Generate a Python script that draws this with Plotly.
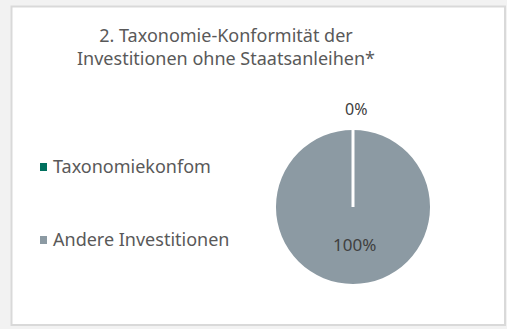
import plotly.graph_objects as go

# Chart data
labels = ["Taxonomiekonfom", "Andere Investitionen"]
values = [0, 100]
colors = ["#00705E", "#8C9AA3"]
title_lines = ["2. Taxonomie-Konformität der", "Investitionen ohne Staatsanleihen*"]

W, H = 507, 329
FONT = "Noto Sans"
TEXT_COLOR = "#595959"
LABEL_COLOR = "#404040"

# Pie geometry in pixels (centre and radius), converted to paper fractions
CX, CY, R = 353, 207, 77
dom_x = [(CX - R) / W, (CX + R) / W]
dom_y = [1 - (CY + R) / H, 1 - (CY - R) / H]

fig = go.Figure()

fig.add_trace(go.Pie(
    labels=labels,
    values=values,
    sort=False,
    direction="clockwise",
    rotation=0,
    marker=dict(colors=colors, line=dict(color="white", width=0)),
    textinfo="none",
    showlegend=False,
    hoverinfo="label+percent",
    domain=dict(x=dom_x, y=dom_y),
))

# Panel background with a light border
fig.add_shape(type="rect", xref="paper", yref="paper",
              x0=11.5 / W, x1=505 / W, y0=1 - 325 / H, y1=1 - 6.5 / H,
              fillcolor="white", line=dict(color="#D9D9D9", width=2), layer="below")

# Slice boundary at the start angle (12 o'clock), where the empty slice sits
fig.add_shape(type="line", xref="paper", yref="paper",
              x0=CX / W, x1=CX / W, y0=1 - CY / H, y1=1 - (CY - R) / H,
              line=dict(color="white", width=3), layer="above")

# Percentage labels: empty slice label above the pie, the rest inside near the bottom
total = sum(values)
pcts = [f"{round(100 * v / total)}%" for v in values]
fig.add_annotation(xref="paper", yref="paper", x=(CX + 3) / W, y=1 - (CY - R - 21) / H,
                   text=pcts[0], showarrow=False,
                   font=dict(family=FONT, size=16, color=LABEL_COLOR),
                   xanchor="center", yanchor="middle")
fig.add_annotation(xref="paper", yref="paper", x=(CX + 1) / W, y=1 - (CY + 37) / H,
                   text=pcts[1], showarrow=False,
                   font=dict(family=FONT, size=17, color=LABEL_COLOR),
                   xanchor="center", yanchor="middle")

# Two-line title
fig.add_annotation(xref="paper", yref="paper", x=226 / W, y=1 - 47 / H,
                   text="<br>".join(title_lines), showarrow=False,
                   font=dict(family=FONT, size=18, color=TEXT_COLOR),
                   xanchor="center", yanchor="middle", align="center")

# Legend entries: coloured swatch + label
legend_y = [167, 240]
for lab, col, yy in zip(labels, colors, legend_y):
    fig.add_shape(type="rect", xref="paper", yref="paper",
                  x0=40 / W, x1=47 / W, y0=1 - (yy + 4) / H, y1=1 - (yy - 4) / H,
                  fillcolor=col, line=dict(width=0))
    fig.add_annotation(xref="paper", yref="paper", x=51 / W, y=1 - (yy - 1) / H,
                       text=lab, showarrow=False,
                       font=dict(family=FONT, size=18, color=TEXT_COLOR),
                       xanchor="left", yanchor="middle")

fig.update_layout(
    width=W, height=H,
    margin=dict(l=0, r=0, t=0, b=0),
    paper_bgcolor="#F2F2F2",
    plot_bgcolor="white",
)

fig.write_html("out.html")
